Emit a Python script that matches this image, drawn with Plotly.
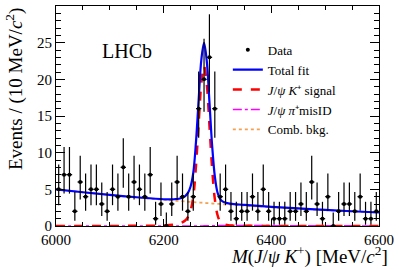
import plotly.graph_objects as go

# ---- data (10 MeV bins, 6000-6600) ----
bin_centers = [6005 + 10 * i for i in range(60)]
counts = [5, 7, 7, 2, 6, 4, 5, 5, 3, 2,
          5, 4, 8, 4, 6, 5, 4, 7, 1, 3,
          0, 3, 6, 4, 2, 4, 16, 20, 23, 16,
          4, 5, 2, 1, 2, 2, 4, 2, 5, 2,
          1, 1, 1, 2, 2, 3, 2, 6, 3, 1,
          4, 0, 2, 3, 3, 2, 4, 1, 1, 2]

# 68% Poisson (Garwood) interval bounds for n = 0..25
poisson_low = [0, 0.173, 0.708, 1.367, 2.086, 2.840, 3.620, 4.419, 5.232, 6.057,
               6.891, 7.734, 8.585, 9.441, 10.30, 11.17, 12.04, 12.92, 13.80, 14.68,
               15.57, 16.46, 17.35, 18.24, 19.14, 20.03]
poisson_high = [1.841, 3.300, 4.638, 5.918, 7.163, 8.382, 9.584, 10.77, 11.95, 13.11,
                14.27, 15.42, 16.56, 17.70, 18.83, 19.96, 21.08, 22.20, 23.32, 24.44,
                25.55, 26.66, 27.76, 28.87, 29.97, 31.07]

# ---- fit curves ----
curve_mass = [6000, 6050, 6100, 6150, 6200, 6220, 6230, 6240, 6245, 6250, 6255, 6260,
              6265, 6270, 6275, 6280, 6285, 6290, 6295, 6300, 6305, 6310, 6320,
              6330, 6350, 6400, 6450, 6500, 6550, 6600]
comb_bkg = [5.00, 4.60, 4.23, 3.89, 3.57, 3.45, 3.40, 3.34, 3.31, 3.29, 3.26, 3.23,
            3.21, 3.18, 3.15, 3.12, 3.10, 3.07, 3.05, 3.02, 3.00, 2.97, 2.92,
            2.88, 2.78, 2.55, 2.35, 2.16, 1.99, 1.83]
signal = [0.0, 0.0, 0.01, 0.03, 0.08, 0.2, 0.35, 0.75, 1.2, 2.1, 4.0, 8.2,
          14.0, 19.5, 21.8, 19.4, 13.8, 7.9, 3.7, 1.5, 0.6, 0.3, 0.1,
          0.05, 0.03, 0.01, 0.0, 0.0, 0.0, 0.0]
misid = [0.0, 0.0, 0.0, 0.0, 0.0, 0.0, 0.0, 0.0, 0.0, 0.0, 0.0, 0.0,
         0.01, 0.01, 0.02, 0.02, 0.03, 0.04, 0.05, 0.05, 0.06, 0.06, 0.06,
         0.06, 0.06, 0.05, 0.04, 0.03, 0.02, 0.01]
total = [c + s + m for c, s, m in zip(comb_bkg, signal, misid)]

err_plus = [poisson_high[n] - n for n in counts]
err_minus = [n - poisson_low[n] for n in counts]

FONT = "Liberation Serif"

fig = go.Figure()
fig.add_trace(go.Scatter(x=curve_mass, y=comb_bkg, mode="lines", line_shape="spline",
                         line=dict(color="#f5a04f", width=1.8, dash="dot"),
                         name="Comb. bkg.", legendrank=5))
fig.add_trace(go.Scatter(x=curve_mass, y=misid, mode="lines", line_shape="spline",
                         line=dict(color="#ff00ff", width=1.5, dash="dashdot"),
                         name="<i>J</i>/<i>ψ π</i>⁺misID", legendrank=4))
fig.add_trace(go.Scatter(x=curve_mass, y=signal, mode="lines", line_shape="spline",
                         line=dict(color="#ff0000", width=2.5, dash="dash"),
                         name="<i>J</i>/<i>ψ K</i>⁺ signal", legendrank=3))
fig.add_trace(go.Scatter(x=curve_mass, y=total, mode="lines", line_shape="spline",
                         line=dict(color="#0000ff", width=2.2), name="Total fit",
                         legendrank=2))
fig.add_trace(go.Scatter(x=bin_centers, y=counts, mode="markers", name="Data",
                         legendrank=1,
                         marker=dict(color="black", size=4),
                         error_y=dict(type="data", symmetric=False, array=err_plus,
                                      arrayminus=err_minus, color="black", thickness=1.2, width=0),
                         error_x=dict(type="constant", value=5, color="black", thickness=1.2, width=0)))

axis_common = dict(showline=True, linecolor="black", linewidth=1, mirror="ticks",
                   ticks="inside", tickcolor="black", showgrid=False, zeroline=False,
                   tickfont=dict(family=FONT, size=15, color="black"))
fig.update_xaxes(range=[6000, 6600], dtick=200, tick0=6000, ticklen=7,
                 minor=dict(dtick=50, ticklen=4, ticks="inside", tickcolor="black"),
                 **axis_common)
fig.update_yaxes(range=[0, 30], dtick=5, tick0=0, ticklen=9,
                 minor=dict(dtick=1, ticklen=5, ticks="inside", tickcolor="black"),
                 **axis_common)

fig.update_layout(
    width=399, height=270, margin=dict(l=56, r=16, t=5, b=44),
    paper_bgcolor="white", plot_bgcolor="white",
    font=dict(family=FONT, size=14, color="black"),
    legend=dict(x=0.532, y=0.869, xanchor="left", yanchor="top", bgcolor="rgba(0,0,0,0)",
                traceorder="normal", font=dict(family=FONT, size=13), itemwidth=30,
                tracegroupgap=0),
    showlegend=True,
    annotations=[
        dict(text="LHCb", xref="paper", yref="paper", x=0.22, y=0.796, showarrow=False,
             font=dict(family=FONT, size=20), xanchor="center", yanchor="middle"),
        dict(text="<i>M</i>(<i>J</i>/<i>ψ K</i><sup>+</sup>) [MeV/<i>c</i><sup>2</sup>]",
             xref="paper", yref="paper", x=1.034, y=-0.132, showarrow=False,
             font=dict(family=FONT, size=19), xanchor="right", yanchor="middle"),
        dict(text="Events / (10 MeV/<i>c</i><sup>2</sup>)", xref="paper", yref="paper",
             x=-0.13, y=1.0, showarrow=False, textangle=-90,
             font=dict(family=FONT, size=19), xanchor="center", yanchor="top"),
    ],
)

fig.write_html("out.html", config={"displayModeBar": False},
               post_script="document.body.style.margin='0';")
